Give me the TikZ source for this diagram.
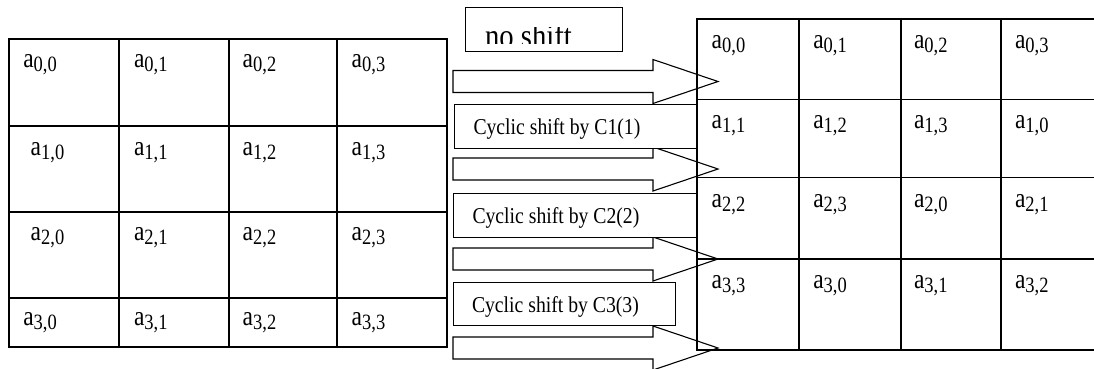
\documentclass[tikz,border=0pt]{standalone}
\usepackage{fontspec}
\setmainfont{Liberation Serif}
\tikzset{
  grid line/.style={line width=1.2pt, line cap=rect},
  label box/.style={draw, line width=1.3pt, fill=white, anchor=north west, inner sep=0pt},
  cell text/.style={anchor=base west, inner sep=0pt, outer sep=0pt},
  shift text/.style={anchor=base west, inner sep=0pt, outer sep=0pt},
  block arrow/.pic={
    \draw[line width=1.1pt, fill=white, line join=miter]
      (0,-11) -- (200,-11) -- (200,-22) -- (265,0) -- (200,22) -- (200,11) -- (0,11) -- cycle;
  }
}
\newcommand{\cellA}[1]{\scalebox{1}[1.18]{\fontsize{23.5}{24}\selectfont a\raisebox{-3.5pt}{\fontsize{18.5}{18.5}\selectfont #1}}}
\newcommand{\shiftT}[1]{\scalebox{1}[1.15]{\fontsize{19.7}{20}\selectfont #1}}
\begin{document}
\begin{tikzpicture}[x=1pt,y=-1pt]
\useasboundingbox (0,0) rectangle (1094,368);

% ---------- left table ----------
\draw[grid line] (9,39) rectangle (447,347);
\foreach \xx in {119,229,337} \draw[grid line] (\xx,39) -- (\xx,347);
\foreach \yy in {126,212,298} \draw[grid line] (9,\yy) -- (447,\yy);

\foreach \r/\yb/\xo in {0/67/23.3, 1/155/30.7, 2/240.7/30.7, 3/325/23.3}{
  \node[cell text] (L\r0) at (\xo,\yb) {\cellA{\r,0}};
  \node[cell text] (L\r1) at (134,\yb) {\cellA{\r,1}};
  \node[cell text] (L\r2) at (242.7,\yb) {\cellA{\r,2}};
  \node[cell text] (L\r3) at (351.7,\yb) {\cellA{\r,3}};
}

% ---------- block arrows ----------
\pic (arrA) at (453,81.5) {block arrow};
\pic (arrB) at (453,169) {block arrow};
\pic (arrC) at (453,259) {block arrow};
\pic (arrD) at (453,348) {block arrow};

% ---------- label boxes ----------
\node[label box, minimum width=157pt, minimum height=44pt] (noshiftbox) at (465,7) {};
\begin{scope}
  \clip (466,27.5) rectangle (621,43.5);
  \node[shift text] (noshift) at (485,47) {\scalebox{1}[1.18]{\fontsize{28.7}{29}\selectfont\rmfamily no shift}};
\end{scope}

\node[label box, minimum width=243pt, minimum height=44pt] (c1box) at (454,104) {};
\node[shift text] (c1) at (473.5,134.5) {\shiftT{Cyclic shift by C1(1)}};

\node[label box, minimum width=243pt, minimum height=44pt] (c2box) at (453,193) {};
\node[shift text] (c2) at (472.5,223.5) {\shiftT{Cyclic shift by C2(2)}};

\node[label box, minimum width=222pt, minimum height=43pt] (c3box) at (453,282) {};
\node[shift text] (c3) at (472,312) {\shiftT{Cyclic shift by C3(3)}};

% ---------- right table ----------
\foreach \yy in {19,99.3,177.3,259,350} \draw[grid line] (697,\yy) -- (1094,\yy);
\foreach \xx in {697,799,901,1001} \draw[grid line] (\xx,19) -- (\xx,350);

\foreach \r/\yb in {0/48.5, 1/128.5, 2/207.5, 3/288.5}{
  \foreach \c/\xx in {0/711.7, 1/813.3, 2/914, 3/1015}{
    \pgfmathtruncatemacro{\k}{mod(\r+\c,4)}
    \node[cell text] (R\r\c) at (\xx,\yb) {\cellA{\r,\k}};
  }
}
\end{tikzpicture}
\end{document}
